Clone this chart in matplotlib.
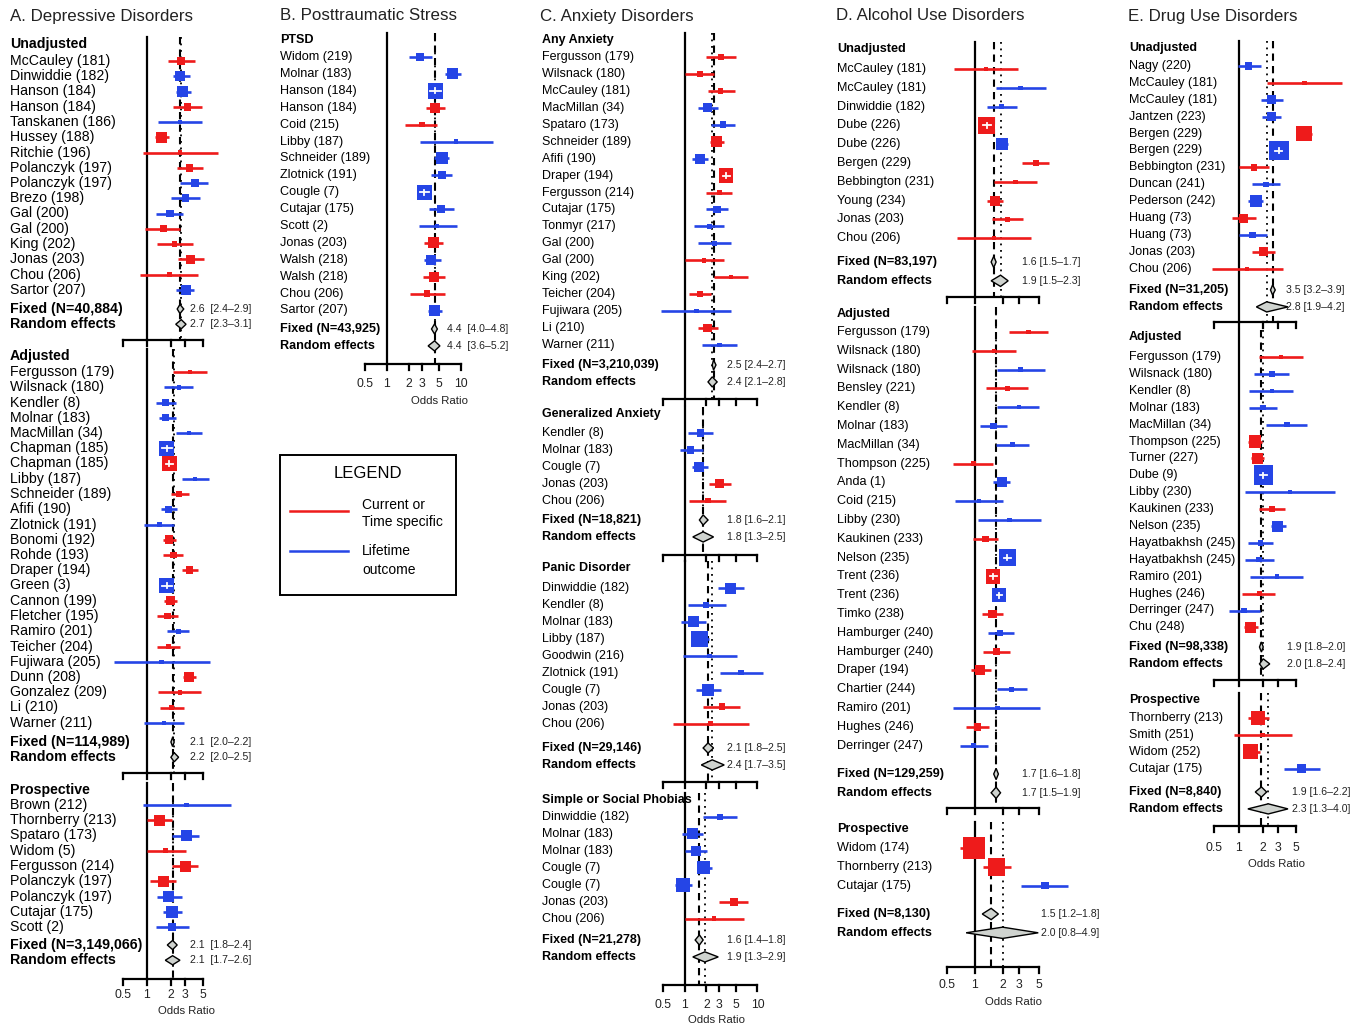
import numpy as np
import matplotlib
matplotlib.use("Agg")
import matplotlib.pyplot as plt
from matplotlib.patches import Polygon, Rectangle

W, H = 1363, 1026
RED = '#ee1b1b'
BLUE = '#2545e6'
FONT = 'Liberation Sans'
plt.rcParams['font.family'] = [FONT, 'DejaVu Sans']

# ======================= DATA =======================
# kind: C = current / time specific outcome (red), L = lifetime outcome (blue)

# ---- A. Depressive Disorders ----
A1_names = ["McCauley (181)", "Dinwiddie (182)", "Hanson (184)", "Hanson (184)", "Tanskanen (186)",
            "Hussey (188)", "Ritchie (196)", "Polanczyk (197)", "Polanczyk (197)", "Brezo (198)",
            "Gal (200)", "Gal (200)", "King (202)", "Jonas (203)", "Chou (206)", "Sartor (207)"]
A1_or = [2.68, 2.6, 2.81, 3.25, 2.6, 1.54, 2.6, 3.41, 4.02, 3.04, 1.95, 1.61, 2.21, 3.55, 1.91, 3.07]
A1_lo = [1.82, 2.11, 2.3, 2.11, 1.38, 1.26, 0.9, 2.36, 2.62, 2.02, 1.3, 0.94, 1.35, 2.48, 0.82, 2.3]
A1_hi = [4.02, 3.48, 3.58, 4.93, 4.93, 1.91, 7.8, 5.0, 5.9, 4.68, 2.81, 2.62, 3.76, 5.17, 4.34, 3.94]
A1_w = [12, 20, 25, 12, 2, 25, 1, 12, 16, 12, 12, 9, 6, 16, 2, 20]
A1_kind = list("CLLCLCCCLLLCCCCL")

A2_names = ["Fergusson (179)", "Wilsnack (180)", "Kendler (8)", "Molnar (183)", "MacMillan (34)",
            "Chapman (185)", "Chapman (185)", "Libby (187)", "Schneider (189)", "Afifi (190)",
            "Zlotnick (191)", "Bonomi (192)", "Rohde (193)", "Draper (194)", "Green (3)",
            "Cannon (199)", "Fletcher (195)", "Ramiro (201)", "Teicher (204)", "Fujiwara (205)",
            "Dunn (208)", "Gonzalez (209)", "Li (210)", "Warner (211)"]
A2_or = [3.47, 2.53, 1.72, 1.72, 3.38, 1.77, 1.91, 4.02, 2.53, 1.86, 1.43, 1.89, 2.15, 3.41, 1.77,
         1.98, 1.82, 2.48, 1.86, 1.53, 3.35, 2.6, 2.05, 1.64]
A2_lo = [2.11, 1.65, 1.3, 1.4, 2.3, 1.53, 1.72, 2.73, 1.98, 1.5, 0.92, 1.58, 1.6, 2.73, 1.56,
         1.65, 1.35, 1.77, 1.32, 0.38, 2.81, 1.39, 1.46, 0.92]
A2_hi = [5.74, 3.76, 2.32, 2.32, 4.93, 2.05, 2.15, 5.98, 3.35, 2.36, 2.19, 2.3, 2.87, 4.43, 2.05,
         2.4, 2.48, 3.41, 2.6, 6.2, 4.14, 4.85, 2.95, 2.92]
A2_w = [2, 4, 9, 9, 4, 49, 49, 4, 9, 9, 2, 16, 9, 12, 49, 16, 9, 6, 6, 1, 20, 2, 6, 2]
A2_kind = list("CLLLLLCLCLLCCCLCCLCLCCCL")

A3_names = ["Brown (212)", "Thornberry (213)", "Spataro (173)", "Widom (5)", "Fergusson (214)",
            "Polanczyk (197)", "Polanczyk (197)", "Cutajar (175)", "Scott (2)"]
A3_or = [3.16, 1.42, 3.16, 1.72, 3.07, 1.61, 1.89, 2.05, 2.08]
A3_lo = [0.88, 1.0, 2.05, 1.0, 2.05, 1.1, 1.32, 1.58, 1.3]
A3_hi = [11.3, 2.05, 4.51, 3.07, 4.34, 2.32, 2.73, 2.73, 3.38]
A3_w = [1, 25, 25, 6, 25, 25, 25, 30, 12]
A3_kind = list("LCLCCCLLL")

# ---- B. Posttraumatic Stress ----
B1_names = ["Widom (219)", "Molnar (183)", "Hanson (184)", "Hanson (184)", "Coid (215)", "Libby (187)",
            "Schneider (189)", "Zlotnick (191)", "Cougle (7)", "Cutajar (175)", "Scott (2)",
            "Jonas (203)", "Walsh (218)", "Walsh (218)", "Chou (206)", "Sartor (207)"]
B1_or = [2.82, 7.8, 4.5, 4.5, 2.97, 8.6, 5.55, 5.55, 3.2, 5.38, 4.74, 4.27, 3.94, 4.27, 3.48, 4.36]
B1_lo = [1.96, 6.15, 3.85, 3.4, 1.77, 2.76, 4.36, 3.94, 2.82, 3.65, 2.68, 3.2, 3.13, 3.07, 2.07, 3.55]
B1_hi = [4.06, 10.0, 5.35, 6.15, 4.74, 27.0, 6.8, 7.57, 3.65, 7.95, 8.84, 5.72, 5.38, 6.15, 6.15, 5.55]
B1_w = [12, 25, 49, 20, 6, 1, 30, 12, 49, 12, 4, 25, 20, 20, 9, 25]
B1_kind = list("LLLCCLLLLLLCLCCL")

# ---- C. Anxiety Disorders ----
C1_names = ["Fergusson (179)", "Wilsnack (180)", "McCauley (181)", "MacMillan (34)", "Spataro (173)",
            "Schneider (189)", "Afifi (190)", "Draper (194)", "Fergusson (214)", "Cutajar (175)",
            "Tonmyr (217)", "Gal (200)", "Gal (200)", "King (202)", "Teicher (204)",
            "Fujiwara (205)", "Li (210)", "Warner (211)"]
C1_or = [3.18, 1.64, 3.11, 2.09, 3.35, 2.72, 1.64, 3.72, 3.02, 2.8, 2.2, 2.57, 1.84, 4.36, 1.64, 1.45, 2.09, 3.02]
C1_lo = [1.98, 1.03, 2.09, 1.52, 2.32, 2.27, 1.26, 3.35, 1.98, 1.98, 1.37, 1.52, 1.0, 2.57, 1.17, 0.48, 1.52, 1.75]
C1_hi = [5.1, 2.5, 4.85, 2.9, 4.95, 3.46, 2.13, 4.14, 4.5, 3.92, 3.46, 4.27, 3.53, 7.37, 2.32, 4.36, 2.86, 5.27]
C1_w = [6, 9, 6, 16, 9, 25, 20, 42, 6, 12, 6, 4, 2, 2, 9, 1, 16, 4]
C1_kind = list("CCCLLCLCCLLLCCCLCL")

C2_names = ["Kendler (8)", "Molnar (183)", "Cougle (7)", "Jonas (203)", "Chou (206)"]
C2_or = [1.66, 1.21, 1.6, 3.02, 2.09]
C2_lo = [1.11, 0.87, 1.27, 2.2, 1.17]
C2_hi = [2.44, 1.82, 2.13, 4.27, 3.72]
C2_w = [12, 12, 20, 16, 6]
C2_kind = list("LLLCC")

C3_names = ["Dinwiddie (182)", "Kendler (8)", "Molnar (183)", "Libby (187)", "Goodwin (216)",
            "Zlotnick (191)", "Cougle (7)", "Jonas (203)", "Chou (206)"]
C3_or = [4.27, 1.98, 1.33, 1.6, 2.2, 5.98, 2.09, 3.25, 2.27]
C3_lo = [2.86, 1.11, 0.9, 1.23, 0.95, 3.08, 1.45, 1.78, 0.69]
C3_hi = [6.6, 3.72, 1.98, 2.15, 5.2, 11.8, 3.18, 5.84, 7.6]
C3_w = [25, 9, 25, 56, 2, 6, 30, 9, 2]
C3_kind = list("LLLLLLLCC")

C4_names = ["Dinwiddie (182)", "Molnar (183)", "Molnar (183)", "Cougle (7)", "Cougle (7)",
            "Jonas (203)", "Chou (206)"]
C4_or = [3.08, 1.29, 1.45, 1.84, 0.95, 4.74, 2.52]
C4_lo = [1.78, 0.92, 1.0, 1.5, 0.74, 3.0, 1.0]
C4_hi = [5.3, 1.8, 2.03, 2.4, 1.25, 7.37, 6.6]
C4_w = [6, 25, 20, 36, 42, 12, 2]
C4_kind = list("LLLLLCC")

# ---- D. Alcohol Use Disorders ----
D1_names = ["McCauley (181)", "McCauley (181)", "Dinwiddie (182)", "Dube (226)", "Dube (226)",
            "Bergen (229)", "Bebbington (231)", "Young (234)", "Jonas (203)", "Chou (206)"]
D1_or = [1.32, 3.15, 1.96, 1.34, 1.99, 4.63, 2.78, 1.65, 2.27, 1.61]
D1_lo = [0.59, 1.68, 1.34, 1.23, 1.75, 3.23, 1.61, 1.36, 1.52, 0.63]
D1_hi = [2.97, 5.95, 2.85, 1.48, 2.28, 6.47, 4.7, 2.04, 3.37, 4.08]
D1_w = [1, 2, 6, 56, 30, 9, 2, 20, 4, 1]
D1_kind = list("CLLCLCCCCC")

D2_names = ["Fergusson (179)", "Wilsnack (180)", "Wilsnack (180)", "Bensley (221)", "Kendler (8)",
            "Molnar (183)", "MacMillan (34)", "Thompson (225)", "Anda (1)", "Coid (215)",
            "Libby (230)", "Kaukinen (233)", "Nelson (235)", "Trent (236)", "Trent (236)",
            "Timko (238)", "Hamburger (240)", "Hamburger (240)", "Draper (194)", "Chartier (244)",
            "Ramiro (201)", "Hughes (246)", "Derringer (247)"]
D2_or = [3.82, 1.61, 3.15, 2.25, 3.02, 1.58, 2.58, 0.96, 1.96, 1.11, 2.37, 1.31, 2.25, 1.56, 1.83,
         1.54, 1.87, 1.72, 1.13, 2.51, 1.75, 1.06, 0.97]
D2_lo = [2.35, 0.93, 1.75, 1.31, 1.75, 1.13, 1.68, 0.57, 1.56, 0.6, 1.07, 0.94, 2.06, 1.44, 1.72,
         1.2, 1.38, 1.23, 0.9, 1.75, 0.58, 0.79, 0.69]
D2_hi = [6.3, 2.8, 5.8, 3.82, 5.04, 2.25, 3.92, 1.58, 2.41, 2.04, 5.2, 1.8, 2.45, 1.72, 1.96,
         2.0, 2.66, 2.41, 1.48, 3.67, 5.1, 1.43, 1.4]
D2_w = [4, 2, 2, 2, 2, 9, 6, 4, 20, 2, 1, 9, 56, 42, 42, 16, 9, 12, 20, 6, 1, 12, 6]
D2_kind = list("CCLCLLLCLLLCLCLCLCCLLCL")

D3_names = ["Widom (174)", "Thornberry (213)", "Cutajar (175)"]
D3_or = [0.97, 1.72, 5.8]
D3_lo = [0.69, 1.21, 3.18]
D3_hi = [1.26, 2.45, 10.4]
D3_w = [95, 64, 12]
D3_kind = list("CCL")

# ---- E. Drug Use Disorders ----
E1_names = ["Nagy (220)", "McCauley (181)", "McCauley (181)", "Jantzen (223)", "Bergen (229)",
            "Bergen (229)", "Bebbington (231)", "Duncan (241)", "Pederson (242)", "Huang (73)",
            "Huang (73)", "Jonas (203)", "Chou (206)"]
E1_or = [1.32, 6.35, 2.5, 2.5, 6.24, 3.12, 1.55, 2.15, 1.62, 1.15, 1.49, 2.01, 1.26]
E1_lo = [0.98, 2.21, 1.89, 1.92, 5.0, 2.77, 1.0, 1.45, 1.32, 0.83, 1.02, 1.45, 0.47]
E1_hi = [1.89, 18.4, 3.43, 3.3, 7.8, 3.41, 2.38, 3.21, 2.01, 1.62, 2.25, 2.8, 3.43]
E1_w = [12, 1, 16, 16, 49, 81, 9, 6, 30, 16, 9, 16, 2]
E1_kind = list("LCLLCLCLLCLCC")

E2_names = ["Fergusson (179)", "Wilsnack (180)", "Kendler (8)", "Molnar (183)", "MacMillan (34)",
            "Thompson (225)", "Turner (227)", "Dube (9)", "Libby (230)", "Kaukinen (233)",
            "Nelson (235)", "Hayatbakhsh (245)", "Hayatbakhsh (245)", "Ramiro (201)",
            "Hughes (246)", "Derringer (247)", "Chu (248)"]
E2_or = [3.3, 2.55, 2.55, 1.98, 3.91, 1.57, 1.72, 2.01, 4.26, 2.55, 3.02, 1.84, 1.77, 2.93, 1.8, 1.17, 1.41]
E2_lo = [1.79, 1.55, 1.36, 1.36, 2.19, 1.29, 1.43, 1.82, 1.2, 1.79, 2.5, 1.29, 1.2, 1.39, 1.11, 0.76, 1.17]
E2_hi = [6.07, 4.14, 4.59, 2.98, 6.85, 1.93, 2.05, 2.24, 15.0, 3.7, 3.8, 2.64, 2.7, 6.07, 2.77, 1.84, 1.72]
E2_w = [4, 6, 4, 6, 6, 30, 25, 81, 1, 9, 25, 6, 6, 2, 6, 6, 25]
E2_kind = list("CLLLLCCLLCLLLLCLC")

E3_names = ["Thornberry (213)", "Smith (251)", "Widom (252)", "Cutajar (175)"]
E3_or = [1.72, 1.96, 1.39, 5.8]
E3_lo = [1.3, 0.88, 1.13, 3.53]
E3_hi = [2.32, 4.46, 1.84, 9.9]
E3_w = [42, 4, 49, 16]
E3_kind = list("CCCL")

# summaries: fixed (est, lo, hi), random (est, lo, hi), N
A1_fix, A1_ran, A1_n = (2.6, 2.4, 2.9), (2.7, 2.3, 3.1), "40,884"
A2_fix, A2_ran, A2_n = (2.1, 2.0, 2.2), (2.2, 2.0, 2.5), "114,989"
A3_fix, A3_ran, A3_n = (2.1, 1.8, 2.4), (2.1, 1.7, 2.6), "3,149,066"
B1_fix, B1_ran, B1_n = (4.4, 4.0, 4.8), (4.4, 3.6, 5.2), "43,925"
C1_fix, C1_ran, C1_n = (2.5, 2.4, 2.7), (2.4, 2.1, 2.8), "3,210,039"
C2_fix, C2_ran, C2_n = (1.8, 1.6, 2.1), (1.8, 1.3, 2.5), "18,821"
C3_fix, C3_ran, C3_n = (2.1, 1.8, 2.5), (2.4, 1.7, 3.5), "29,146"
C4_fix, C4_ran, C4_n = (1.6, 1.4, 1.8), (1.9, 1.3, 2.9), "21,278"
D1_fix, D1_ran, D1_n = (1.6, 1.5, 1.7), (1.9, 1.5, 2.3), "83,197"
D2_fix, D2_ran, D2_n = (1.7, 1.6, 1.8), (1.7, 1.5, 1.9), "129,259"
D3_fix, D3_ran, D3_n = (1.5, 1.2, 1.8), (2.0, 0.8, 4.9), "8,130"
# E unadjusted: diamonds as drawn in the picture, printed estimates as printed
E1_fix, E1_ran, E1_n = (2.6, 2.45, 2.8), (2.2, 1.65, 4.0), "31,205"
E1_fix_txt, E1_ran_txt = "3.5 [3.2\u20133.9]", "2.8 [1.9\u20134.2]"
E2_fix, E2_ran, E2_n = (1.9, 1.8, 2.0), (2.0, 1.8, 2.4), "98,338"
E3_fix, E3_ran, E3_n = (1.9, 1.6, 2.2), (2.3, 1.3, 4.0), "8,840"

TICKS5 = [0.5, 1, 2, 3, 5]
TICKS10 = [0.5, 1, 2, 3, 5, 10]

# ======================= LAYOUT =======================
PANELS = [
    dict(title="A. Depressive Disorders", tx=10, x0=147, k=34.5, lx=10, pitch=15.25, fs=10.2,
         sfs=7.6, ticks=TICKS5, tick_y=995, xlab=(186, 1011), sep="  ",
         blocks=[
             ("Unadjusted", A1_names, A1_or, A1_lo, A1_hi, A1_w, A1_kind, A1_n, A1_fix, A1_ran, 44, 61, 309, 340, 190, None),
             ("Adjusted", A2_names, A2_or, A2_lo, A2_hi, A2_w, A2_kind, A2_n, A2_fix, A2_ran, 356, 372, 742, 773, 190, None),
             ("Prospective", A3_names, A3_or, A3_lo, A3_hi, A3_w, A3_kind, A3_n, A3_fix, A3_ran, 790, 805, 945, 979, 190, None),
         ]),
    dict(title="B. Posttraumatic Stress", tx=280, x0=387, k=32.1, lx=280, pitch=16.9, fs=9.1,
         sfs=7.6, ticks=TICKS10, tick_y=384, xlab=(440, 401), sep="  ",
         blocks=[
             ("PTSD", B1_names, B1_or, B1_lo, B1_hi, B1_w, B1_kind, B1_n, B1_fix, B1_ran, 40, 57, 329, 364, 447, None),
         ]),
    dict(title="C. Anxiety Disorders", tx=540, x0=684.5, k=31.7, lx=542, pitch=16.94, fs=9.0,
         sfs=7.6, ticks=TICKS10, tick_y=1005, xlab=(716, 1020), sep=" ",
         blocks=[
             ("Any Anxiety", C1_names, C1_or, C1_lo, C1_hi, C1_w, C1_kind, C1_n, C1_fix, C1_ran, 40, 57, 365, 399, 727, None),
             ("Generalized Anxiety", C2_names, C2_or, C2_lo, C2_hi, C2_w, C2_kind, C2_n, C2_fix, C2_ran, 414, 433, 520, 555, 727, None),
             ("Panic Disorder", C3_names, C3_or, C3_lo, C3_hi, C3_w, C3_kind, C3_n, C3_fix, C3_ran, 568, 588, 748, 782, 727, None),
             ("Simple or Social Phobias", C4_names, C4_or, C4_lo, C4_hi, C4_w, C4_kind, C4_n, C4_fix, C4_ran, 800, 817, 940, 985, 727, None),
         ]),
    dict(title="D. Alcohol Use Disorders", tx=836, x0=975, k=39.8, lx=837, pitch=18.8, fs=9.1,
         sfs=7.6, ticks=TICKS5, tick_y=985, xlab=(1013, 1002), sep=" ",
         blocks=[
             ("Unadjusted", D1_names, D1_or, D1_lo, D1_hi, D1_w, D1_kind, D1_n, D1_fix, D1_ran, 49, 69, 262, 297, 1022, None),
             ("Adjusted", D2_names, D2_or, D2_lo, D2_hi, D2_w, D2_kind, D2_n, D2_fix, D2_ran, 314, 332, 774, 808, 1022, None),
             ("Prospective", D3_names, D3_or, D3_lo, D3_hi, D3_w, D3_kind, D3_n, D3_fix, D3_ran, 829, 848, 914, 967, 1041, None),
         ]),
    dict(title="E. Drug Use Disorders", tx=1128, x0=1238.5, k=35.7, lx=1129, pitch=16.9, fs=9.0,
         sfs=7.6, ticks=TICKS5, tick_y=848, xlab=(1277, 864), sep=" ",
         blocks=[
             ("Unadjusted", E1_names, E1_or, E1_lo, E1_hi, E1_w, E1_kind, E1_n, E1_fix, E1_ran, 48, 66, 290, 322, 1286,
              (E1_fix_txt, E1_ran_txt)),
             ("Adjusted", E2_names, E2_or, E2_lo, E2_hi, E2_w, E2_kind, E2_n, E2_fix, E2_ran, 337, 357, 647, 680, 1287, None),
             ("Prospective", E3_names, E3_or, E3_lo, E3_hi, E3_w, E3_kind, E3_n, E3_fix, E3_ran, 700, 718, 792, 826, 1292, None),
         ]),
]

COLORS = {"C": RED, "L": BLUE}

fig = plt.figure(figsize=(W / 100, H / 100), dpi=100)
fig.patch.set_facecolor("white")


def ftext(x, y, s, **kw):
    """place text at pixel position (x from left, y from top)"""
    return fig.text(x / W, 1 - y / H, s, **kw)


for P in PANELS:
    x0, k = P["x0"], P["k"]
    xa, xb = x0 - 120, x0 + 160
    ax = fig.add_axes([xa / W, 0, (xb - xa) / W, 1])
    ax.set_xscale("log")
    ax.set_xlim(np.exp((xa - x0) / k), np.exp((xb - x0) / k))
    ax.set_ylim(H, 0)
    ax.axis("off")

    ftext(P["tx"], 16, P["title"], fontsize=12.2, va="center", ha="left", color="#222222")

    pitch = P["pitch"]
    nblocks = len(P["blocks"])
    for bi, (head, names, orr, lo, hi, wt, kind, nfix, fix, ran, yh, y1, yf, yax, sx, txts) in enumerate(P["blocks"]):
        ys = y1 + pitch * np.arange(len(names))
        yr = yf + pitch
        ytop = yh - 7
        ftext(P["lx"], yh, head, fontsize=P["fs"], fontweight="bold", va="center", ha="left")
        # reference lines: null (solid), fixed (dashed), random (dotted)
        ax.plot([1, 1], [ytop, yax], color="black", lw=1.6, clip_on=False, zorder=1)
        ax.plot([fix[0], fix[0]], [ytop, yax], color="black", lw=1.5, ls=(0, (3.5, 2.5)),
                clip_on=False, zorder=1)
        ax.plot([ran[0], ran[0]], [ytop, yax], color="black", lw=1.3, ls=(0, (1, 2.6)),
                clip_on=False, zorder=1)
        # studies
        for name, o, l, h, w, kd, y in zip(names, orr, lo, hi, wt, kind, ys):
            c = COLORS[kd]
            ftext(P["lx"], y, name, fontsize=P["fs"], va="center", ha="left")
            ax.plot([l, h], [y, y], color=c, lw=1.9, solid_capstyle="butt", clip_on=False, zorder=3)
            side = max(2.2 * np.sqrt(w), 4.5)
            half = side / 2
            xl = np.exp(np.log(o) - half / k)
            xr = np.exp(np.log(o) + half / k)
            ax.add_patch(Rectangle((xl, y - half), xr - xl, side, facecolor=c, edgecolor="none",
                                   clip_on=False, zorder=4))
            pl = k * (np.log(o) - np.log(l))
            ph = k * (np.log(h) - np.log(o))
            if pl < half and ph < half and side >= 13:
                ax.plot([l, h], [y, y], color="white", lw=1.3, clip_on=False, zorder=5)
                ax.plot([o, o], [y - 2.4, y + 2.4], color="white", lw=1.3, clip_on=False, zorder=5)
        # summary diamonds
        dh = 0.3 * pitch
        rows = ((fix, yf, "Fixed (N=%s)" % nfix), (ran, yr, "Random effects"))
        for j, ((est, l, h), yy, lab) in enumerate(rows):
            ftext(P["lx"], yy, lab, fontsize=P["fs"], fontweight="bold", va="center", ha="left")
            ax.add_patch(Polygon([(l, yy), (est, yy - dh), (h, yy), (est, yy + dh)], closed=True,
                                 facecolor="#cfd3cf", edgecolor="black", lw=1.0, clip_on=False,
                                 zorder=6))
            s = txts[j] if txts else "%.1f%s[%.1f\u2013%.1f]" % (est, P["sep"], l, h)
            ftext(sx, yy, s, fontsize=P["sfs"], va="center", ha="left", color="#222222")
        # axis
        t = P["ticks"]
        ax.plot([t[0], t[-1]], [yax, yax], color="black", lw=1.6, clip_on=False, zorder=2)
        for tv in t:
            ax.plot([tv, tv], [yax, yax + 6], color="black", lw=1.6, clip_on=False, zorder=2)
        if bi == nblocks - 1:
            for tv in t:
                ax.text(tv, P["tick_y"], ("%g" % tv), fontsize=8.8, ha="center", va="center",
                        clip_on=False, color="#222222")
            ftext(P["xlab"][0], P["xlab"][1], "Odds Ratio", fontsize=8.2, ha="center", va="center",
                  color="#222222")

# ---- legend ----
lax = fig.add_axes([0, 0, 1, 1], facecolor="none")
lax.set_xlim(0, W)
lax.set_ylim(H, 0)
lax.axis("off")
lax.add_patch(Rectangle((280, 455), 176, 140, facecolor="white", edgecolor="black", lw=1.4))
lax.text(368, 473, "LEGEND", fontsize=12, ha="center", va="center", fontweight="medium")
lax.plot([290, 348], [511, 511], color=RED, lw=1.8)
lax.plot([290, 348], [551, 551], color=BLUE, lw=1.8)
lax.text(362, 505, "Current or", fontsize=10, ha="left", va="center")
lax.text(362, 522, "Time specific", fontsize=10, ha="left", va="center")
lax.text(362, 551, "Lifetime", fontsize=10, ha="left", va="center")
lax.text(362, 570, "outcome", fontsize=10, ha="left", va="center")

fig.savefig("out.png", dpi=100, facecolor="white")
